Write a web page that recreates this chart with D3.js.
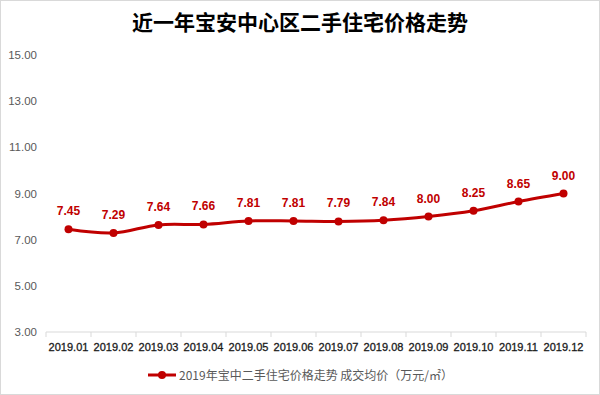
<!DOCTYPE html>
<html>
<head>
<meta charset="utf-8">
<script src="https://cdn.jsdelivr.net/npm/d3@7"></script>
<style>
  body { margin: 0; background: #fff; }
  svg text { font-family: "Liberation Sans", Arial, "Noto Sans CJK SC", sans-serif; }
</style>
</head>
<body>
<div id="chart"></div>
<script>
let months = ["2019.01", "2019.02", "2019.03", "2019.04", "2019.05", "2019.06",
              "2019.07", "2019.08", "2019.09", "2019.10", "2019.11", "2019.12"];
let prices = [7.45, 7.29, 7.64, 7.66, 7.81, 7.81, 7.79, 7.84, 8.00, 8.25, 8.65, 9.00];
let yTicks = [3, 5, 7, 9, 11, 13, 15];
let chartTitle = "近一年宝安中心区二手住宅价格走势";
let legendLabel = "2019年宝中二手住宅价格走势 成交均价（万元/㎡）";

function main() {
    var width = 600, height = 395;
    var margin = {top: 55, right: 14, bottom: 63, left: 46};

    var svg = d3.select("#chart")
        .append("svg")
        .attr("width", width)
        .attr("height", height);

    // outer frame
    svg.append("rect")
        .attr("x", 0.5).attr("y", 0.5)
        .attr("width", width - 1).attr("height", height - 1)
        .attr("fill", "#fff")
        .attr("stroke", "#d9d9d9");

    svg.append("text")
        .attr("x", width / 2)
        .attr("y", 30)
        .attr("text-anchor", "middle")
        .style("font-family", "'Noto Sans CJK SC', sans-serif")
        .style("font-size", "21px")
        .style("font-weight", "bold")
        .attr("fill", "#000")
        .text(chartTitle);

    var x = d3.scaleBand()
        .domain(months)
        .range([margin.left, width - margin.right]);

    var y = d3.scaleLinear()
        .domain([3, 15])
        .range([height - margin.bottom, margin.top]);

    // x axis
    var xAxis = svg.append("g")
        .attr("transform", "translate(0," + (height - margin.bottom) + ")");
    xAxis.append("line")
        .attr("x1", x.range()[0]).attr("x2", x.range()[1])
        .attr("stroke", "#d9d9d9");
    xAxis.selectAll("line.tick")
        .data(months.concat(["end"]))
        .enter().append("line")
        .attr("class", "tick")
        .attr("x1", function(d, i) { return x.range()[0] + i * x.step(); })
        .attr("x2", function(d, i) { return x.range()[0] + i * x.step(); })
        .attr("y1", 0).attr("y2", 5)
        .attr("stroke", "#d9d9d9");
    xAxis.selectAll("text")
        .data(months)
        .enter().append("text")
        .attr("x", function(d) { return x(d) + x.bandwidth() / 2; })
        .attr("y", 19)
        .attr("text-anchor", "middle")
        .style("font-size", "11px")
        .attr("fill", "#1a1a1a")
        .attr("stroke", "#1a1a1a")
        .attr("stroke-width", 0.3)
        .text(function(d) { return d; });

    // y axis labels (no line, no grid)
    svg.append("g")
        .selectAll("text")
        .data(yTicks)
        .enter().append("text")
        .attr("x", 37)
        .attr("y", function(d) { return y(d) + 4; })
        .attr("text-anchor", "end")
        .style("font-size", "11.5px")
        .attr("fill", "#595959")
        .text(function(d) { return d3.format(".2f")(d); });

    var red = "#c00000";

    svg.append("path")
        .datum(prices)
        .attr("fill", "none")
        .attr("stroke", red)
        .attr("stroke-width", 3)
        .attr("stroke-linejoin", "round")
        .attr("d", d3.line()
            .x(function(d, i) { return x(months[i]) + x.bandwidth() / 2; })
            .y(function(d) { return y(d); })
            .curve(d3.curveCatmullRom.alpha(0.5)));

    svg.selectAll("circle.pt")
        .data(prices)
        .enter().append("circle")
        .attr("class", "pt")
        .attr("cx", function(d, i) { return x(months[i]) + x.bandwidth() / 2; })
        .attr("cy", function(d) { return y(d); })
        .attr("r", 4)
        .attr("fill", red);

    svg.selectAll("text.lbl")
        .data(prices)
        .enter().append("text")
        .attr("class", "lbl")
        .attr("x", function(d, i) { return x(months[i]) + x.bandwidth() / 2; })
        .attr("y", function(d) { return y(d) - 14; })
        .attr("text-anchor", "middle")
        .style("font-size", "12px")
        .style("font-weight", "bold")
        .attr("fill", red)
        .text(function(d) { return d3.format(".2f")(d); });

    // legend
    var lg = svg.append("g").attr("transform", "translate(148,375)");
    lg.append("line")
        .attr("x1", 0).attr("x2", 28)
        .attr("stroke", red).attr("stroke-width", 3);
    lg.append("circle")
        .attr("cx", 14).attr("r", 4).attr("fill", red);
    lg.append("text")
        .attr("x", 31).attr("y", 4.5)
        .style("font-family", "'Noto Sans CJK SC', sans-serif")
        .style("font-size", "12px")
        .attr("fill", "#595959")
        .text(legendLabel);
}

main();
</script>
</body>
</html>
